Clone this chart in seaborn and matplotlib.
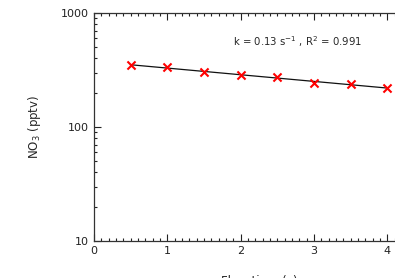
import numpy as np
import matplotlib
matplotlib.use('Agg')
import matplotlib.pyplot as plt
import pandas as pd
import seaborn as sb
from matplotlib.ticker import MultipleLocator, LogLocator, NullFormatter


flow_time = [0.5, 1.0, 1.5, 2.0, 2.5, 3.0, 3.5, 4.0]
no3 = [350, 334, 306, 286, 273, 245, 237, 221]
k_label = 0.13
r2_label = 0.991

frame = pd.DataFrame({'t': flow_time, 'no3': no3})

# exponential decay fit (straight line in log space)
slope, intercept = np.polyfit(frame.t, np.log(frame.no3), 1)
fit = pd.DataFrame({'t': frame.t, 'no3': np.exp(intercept + slope * frame.t)})

sb.set_style('ticks')
plt.rcParams['font.family'] = ['DejaVu Sans']

fig = plt.figure(figsize=(3.95, 2.78), dpi=100)
ax = fig.add_axes([0.238, 0.133, 0.835, 0.82])

sb.lineplot(x='t', y='no3', data=fit, color='#111111', lw=0.9, ax=ax)
sb.scatterplot(x='t', y='no3', data=frame, marker='x', color='red',
               s=34, linewidth=1.5, ax=ax, zorder=3)

ax.set_yscale('log')
ax.set_ylim(10, 1000)
ax.set_xlim(0, 4.5)
ax.xaxis.set_major_locator(MultipleLocator(1))
ax.xaxis.set_minor_locator(MultipleLocator(0.1))
ax.yaxis.set_minor_locator(LogLocator(base=10, subs=np.arange(2, 10)))
ax.yaxis.set_minor_formatter(NullFormatter())
ax.set_yticks([10, 100, 1000])
ax.set_yticklabels(['10', '100', '1000'])

ax.tick_params(which='both', direction='in', top=True, right=True,
               labelsize=8, colors='#222222', width=0.8)
ax.tick_params(which='major', length=5)
ax.tick_params(which='minor', length=2.5)
for s in ax.spines.values():
    s.set_linewidth(0.9)
    s.set_color('#333333')

ax.set_xlabel('Flow time (s)', fontsize=8.5, labelpad=14)
ax.set_ylabel('NO$_3$ (pptv)', fontsize=8.5, labelpad=13)
ax.text(2.78, 560, 'k = %.2f s$^{-1}$ , R$^2$ = %.3f' % (k_label, r2_label),
        ha='center', va='center', fontsize=7.3)

fig.savefig('out.png', dpi=100)
